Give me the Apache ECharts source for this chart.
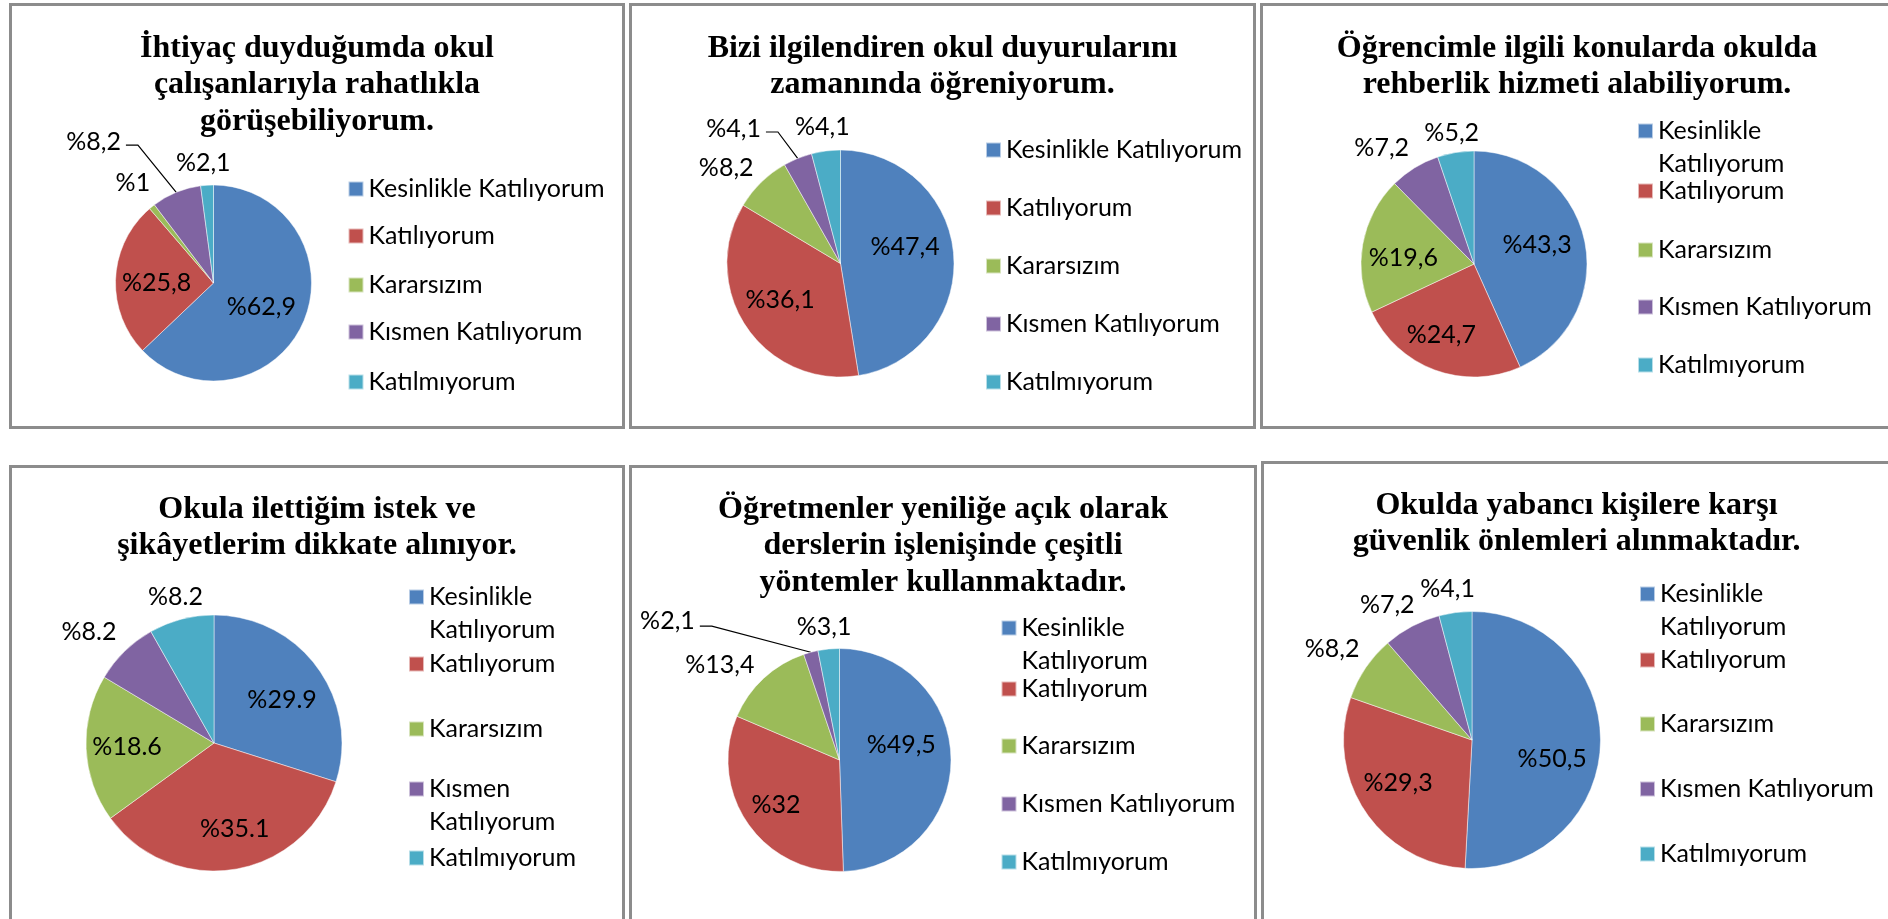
<!DOCTYPE html>
<html>
<head>
<meta charset="utf-8">
<script src="https://cdn.jsdelivr.net/npm/echarts@6/dist/echarts.min.js"></script>
<style>
  html, body { margin: 0; background: #fff; }
  #container { width: 1888px; height: 919px; }
</style>
</head>
<body>
<div id="container"></div>
<script>
// ---- data ----
var categories = ['Kesinlikle Katılıyorum', 'Katılıyorum', 'Kararsızım', 'Kısmen Katılıyorum', 'Katılmıyorum'];
var palette = ['#4F81BD', '#C0504D', '#9BBB59', '#8064A2', '#4BACC6'];
var titles = [
    'İhtiyaç duyduğumda okul\nçalışanlarıyla rahatlıkla\ngörüşebiliyorum.',
    'Bizi ilgilendiren okul duyurularını\nzamanında öğreniyorum.',
    'Öğrencimle ilgili konularda okulda\nrehberlik hizmeti alabiliyorum.',
    'Okula ilettiğim istek ve\nşikâyetlerim dikkate alınıyor.',
    'Öğretmenler yeniliğe açık olarak\nderslerin işlenişinde çeşitli\nyöntemler kullanmaktadır.',
    'Okulda yabancı kişilere karşı\ngüvenlik önlemleri alınmaktadır.'
];
var values1 = [62.9, 25.8, 1, 8.2, 2.1];
var values2 = [47.4, 36.1, 8.2, 4.1, 4.1];
var values3 = [43.3, 24.7, 19.6, 7.2, 5.2];
var values4 = [29.9, 35.1, 18.6, 8.2, 8.2];
var values5 = [49.5, 32, 13.4, 2.1, 3.1];
var values6 = [50.5, 29.3, 8.2, 7.2, 4.1];
var allValues = [values1, values2, values3, values4, values5, values6];
var decimalMarks = [',', ',', ',', '.', ',', ','];

// ---- layout (px) ----
var panelBoxes = [[9, 3, 625, 429], [629, 3, 1256, 429], [1260, 3, 1895, 429],
                  [9, 465, 625, 930], [629, 465, 1257, 930], [1261, 461, 1895, 930]];
var titleAnchors = [[317, 30], [942.5, 30], [1577, 30], [317, 491], [943, 491], [1576.5, 487]];
var pieCenters = [[213.5, 283], [840.5, 263.5], [1474, 264], [214, 743], [839.5, 760], [1472, 740]];
var pieRadii = [98, 113.5, 113, 128, 111.5, 128.5];
var legendLefts = [347.5, 985, 1637, 408, 1000.5, 1639];
var legendRows = [[184, 231, 280, 327, 377], [145, 203, 261, 319, 377], [131, 186, 245, 302, 360],
                  [597, 659, 724, 789, 853], [628, 684, 741, 799, 857], [594, 655, 719, 784, 849]];
var legendWraps = [[], [], [0], [0, 3], [0], [0]];
// per slice label placement: inside with a small nudge, or outside (len/len2, optional leader line)
var labelSpecs = [
    [{nudge: [0, 3]}, {nudge: [-5, 3]}, {len: 30, len2: 0, nudge: [22, 0]}, {len: 51, len2: 31, line: true, nudge: [0, -3]}, {len: 22, len2: 0, nudge: [30, 0]}],
    [{nudge: [5, -12]}, {nudge: [-11, 3]}, {len: 19.5, len2: 0, nudge: [11, 0]}, {len: 28.5, len2: 21, line: true, nudge: [0, -3]}, {len: 24.4, len2: 0, nudge: [32, 0]}],
    [{nudge: [5, -7]}, {nudge: [-12, 15]}, {nudge: [-12, 4]}, {len: 23, len2: 0, nudge: [11.5, 0]}, {len: 20, len2: 0, nudge: [31.7, 0]}],
    [{nudge: [14, -3.5]}, {nudge: [10, 20]}, {nudge: [-20, 1]}, {len: 27.5, len2: 0, nudge: [16, 0]}, {len: 23.3, len2: 0, nudge: [32.5, 0]}],
    [{nudge: [3, -14]}, {nudge: [-15, 12]}, {len: 18, len2: 0, nudge: [8, 0]}, {len: 27, len2: 104, line: true, nudge: [0, -5]}, {len: 22.4, len2: 0, nudge: [30, 0]}],
    [{nudge: [13, 17]}, {nudge: [-18, 6]}, {len: 33, len2: 0, nudge: [26, 0]}, {len: 24, len2: 0, nudge: [19, 0]}, {len: 23.5, len2: 0, nudge: [27.6, 0]}]
];
var leaderTail = 12;   // short horizontal piece of each leader line

var sansFont = 'Lato';
var textSize = 25;
var wrapLine = 33;

var myChart = echarts.init(document.getElementById('container'));

var graphics = [], titleList = [], legendList = [], seriesList = [];

panelBoxes.forEach(function (b, i) {
    graphics.push({
        type: 'rect', silent: true,
        shape: {x: b[0] + 1.5, y: b[1] + 1.5, width: b[2] - b[0] - 3, height: b[3] - b[1] - 3},
        style: {fill: 'none', stroke: '#8c8c8c', lineWidth: 3}
    });

    titleList.push({
        text: titles[i],
        left: titleAnchors[i][0], top: titleAnchors[i][1],
        textAlign: 'center', padding: 0,
        textStyle: {fontFamily: 'Liberation Serif', fontWeight: 'bold', fontSize: 32, lineHeight: 36.5, color: '#000'}
    });

    categories.forEach(function (name, k) {
        var wrapped = legendWraps[i].indexOf(k) >= 0;
        var iconTop = legendRows[i][k] - 7.5;
        legendList.push({
            data: [name],
            orient: 'vertical', padding: 0,
            left: legendLefts[i],
            // wrapped text gets an empty first line so the icon sits on the first real line
            top: wrapped ? iconTop - (1.5 * wrapLine - 7.5) : iconTop,
            icon: 'rect', itemWidth: 15, itemHeight: 15,
            selectedMode: false,
            formatter: wrapped ? function (n) { return '\n' + n.replace(' ', '\n'); } : '{name}',
            textStyle: {fontFamily: sansFont, fontSize: textSize, color: '#000', lineHeight: wrapped ? wrapLine : 15}
        });
    });

    var specs = labelSpecs[i];
    var mark = decimalMarks[i];
    seriesList.push({
        type: 'pie',
        center: pieCenters[i],
        radius: pieRadii[i],
        startAngle: 90,
        clockwise: true,
        avoidLabelOverlap: false,
        silent: true,
        emphasis: {disabled: true},
        itemStyle: {borderColor: 'rgba(255,255,255,0.6)', borderWidth: 0.8},
        label: {
            color: '#000', fontFamily: sansFont, fontSize: textSize,
            distanceToLabelLine: 5,
            formatter: function (p) { return '%' + String(p.value).replace('.', mark); }
        },
        labelLine: {lineStyle: {color: '#000', width: 1.2}},
        labelLayout: function (p) {
            var s = specs[p.dataIndex];
            var out = {};
            if (s.nudge) { out.dx = s.nudge[0]; out.dy = s.nudge[1]; }
            if (s.line && p.labelLinePoints) {
                var pts = p.labelLinePoints;
                var end = pts[pts.length - 1];
                var dir = end[0] < pts[0][0] ? 1 : -1;
                out.labelLinePoints = [pts[0], [end[0] + dir * leaderTail, end[1]], end];
            }
            return out;
        },
        data: allValues[i].map(function (v, k) {
            var s = specs[k];
            var outside = s.len != null;
            return {
                value: v,
                name: categories[k],
                itemStyle: {color: palette[k]},
                label: {position: outside ? 'outside' : 'inside'},
                labelLine: {show: !!s.line, length: outside ? s.len : 0, length2: outside ? s.len2 : 0}
            };
        })
    });
});

var option = {
    animation: false,
    backgroundColor: '#fff',
    title: titleList,
    legend: legendList,
    graphic: graphics,
    series: seriesList
};
myChart.setOption(option);
</script>
</body>
</html>
